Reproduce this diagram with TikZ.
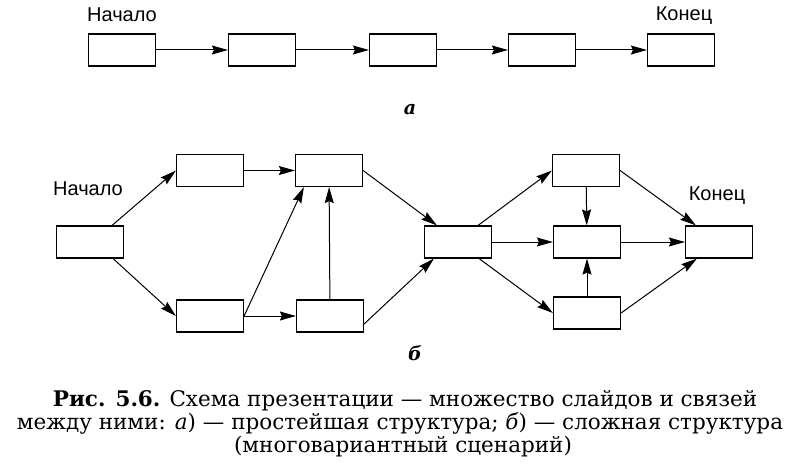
\documentclass[tikz,border=0pt]{standalone}
\usepackage{fontspec}
\setmainfont{DejaVu Serif}
\newfontfamily\labelfont{Liberation Sans}
\usetikzlibrary{arrows.meta}

\tikzset{
  slide/.style={rectangle, draw, line width=1.2pt, minimum width=67pt, minimum height=32pt, inner sep=0pt},
  link/.style={-{Stealth[length=16pt,width=9pt,inset=2pt]}, line width=1pt},
  tag/.style={anchor=base, inner sep=0pt, font=\labelfont\fontsize{20}{22}\selectfont},
  part/.style={anchor=base, inner sep=0pt, font=\bfseries\itshape\fontsize{19}{22}\selectfont},
  capline/.style={anchor=base, inner sep=0pt, font=\fontsize{21.5}{23}\selectfont}
}

\begin{document}
\begin{tikzpicture}[x=1pt, y=-1pt]
\useasboundingbox (0,0) rectangle (800,468);

\node [slide] (v1) at (122,50) {};
\node [slide] (v2) at (262,50) {};
\node [slide] (v3) at (403,50) {};
\node [slide] (v4) at (542,50) {};
\node [slide] (v5) at (681,50) {};
\draw [link] (v1) -- (v2);
\draw [link] (v2) -- (v3);
\draw [link] (v3) -- (v4);
\draw [link] (v4) -- (v5);

\node [tag] (l1) at (122,22) {Начало};
\node [tag] (l2) at (684,21) {Конец};
\node [part] (l3) at (410,114) {а};


\node [slide] (v6) at (90,242) {};
\node [slide] (v7) at (210,170.5) {};
\node [slide] (v8) at (329,170.5) {};
\node [slide] (v9) at (210,316) {};
\node [slide] (v10) at (330,316) {};
\node [slide] (v11) at (458,242) {};
\node [slide] (v12) at (586,170.5) {};
\node [slide] (v13) at (587,242) {};
\node [slide] (v14) at (587,313) {};
\node [slide] (v15) at (719,242) {};
\draw [link] ([xshift=-12pt]v6.north east) -- (v7.west);
\draw [link] ([xshift=-11pt]v6.south east) -- (v9.west);
\draw [link] (v7) -- (v8);
\draw [link] (v9) -- (v10);
\draw [link] (v9.east) -- ([xshift=9pt]v8.south west);
\draw [link] (v10) -- (v8);
\draw [link] (v8.east) -- ([xshift=13pt]v11.north west);
\draw [link] ([yshift=-8pt]v10.east) -- ([xshift=10pt]v11.south west);
\draw [link] ([xshift=-14pt]v11.north east) -- (v12.west);
\draw [link] (v11) -- (v13);
\draw [link] ([xshift=-13pt]v11.south east) -- (v14.west);
\draw [link] (v12) -- (v13);
\draw [link] (v14) -- (v13);
\draw [link] (v12.east) -- ([xshift=11pt]v15.north west);
\draw [link] (v13) -- (v15);
\draw [link] (v14.east) -- ([xshift=12pt]v15.south west);

\node [tag] (l4) at (88,195) {Начало};
\node [tag] (l5) at (717,200) {Конец};
\node [part] (l6) at (415,360) {б};

\node [capline] (c1) at (405,406) {\textbf{Рис. 5.6.} Схема презентации — множество слайдов и связей};
\node [capline] (c2) at (400,429) {между ними: \textit{а}) — простейшая структура; \textit{б}) — сложная структура};
\node [capline] (c3) at (403,452) {(многовариантный сценарий)};
\end{tikzpicture}
\end{document}
